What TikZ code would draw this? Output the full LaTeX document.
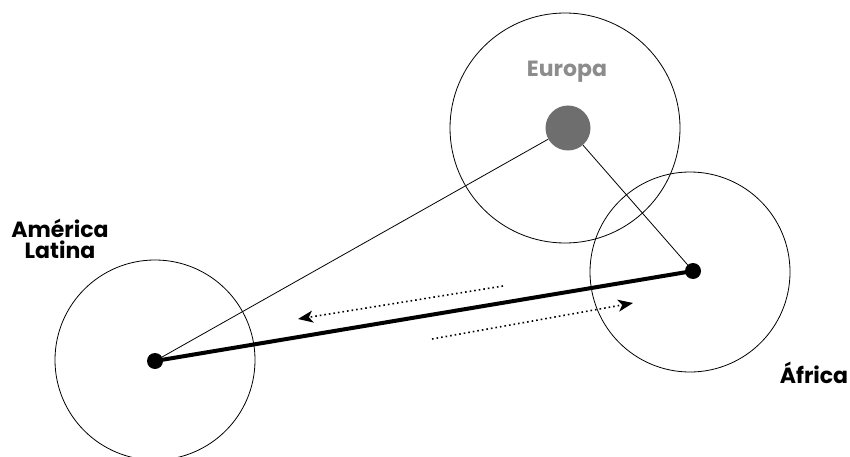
\documentclass[tikz,border=0pt]{standalone}
\usepackage{fontspec}
\setmainfont{Poppins}
\usetikzlibrary{arrows.meta}
\definecolor{eugrey}{RGB}{110,110,110}
\definecolor{eutext}{RGB}{140,140,140}
\tikzset{
  zone/.style={draw=black, line width=0.8pt},
  city/.style={circle, fill=black, inner sep=0pt, minimum size=16pt},
  hub/.style={circle, fill=eugrey, inner sep=0pt, minimum size=45pt},
  link/.style={line width=0.8pt},
  mainlink/.style={line width=4pt},
  flow/.style={line width=1.6pt, dash pattern=on 1.6pt off 3pt, -{Stealth[length=15pt,width=12pt,inset=4pt]}},
  lbl/.style={font=\bfseries\fontsize{22}{25}\selectfont, align=center}
}
\begin{document}
\begin{tikzpicture}[x=1pt,y=-1pt]
\useasboundingbox (0,0) rectangle (850,457);
\begin{scope}
\clip (0,0) rectangle (850,457);
\draw[zone] (565,128) circle (115);
\draw[zone] (155,360) circle (100);
\draw[zone] (690,272) circle (100);
\end{scope}
\node[hub] (eu) at (568,128) {};
\node[city] (am) at (155,361) {};
\node[city] (af) at (693,271) {};
\draw[link] (eu) -- (am.center);
\draw[link] (eu) -- (af.center);
\draw[mainlink] (am.center) -- (af.center);
\coordinate (f1s) at (503,286);
\coordinate (f1e) at (298,319);
\coordinate (f2s) at (432,339);
\coordinate (f2e) at (633,303);
\draw[flow] (f1s) -- (f1e);
\draw[flow] (f2s) -- (f2e);
\node[lbl, text=eutext] (eut) at (567,72) {Europa};
\node[lbl] (amt) at (60,239) {América\\[-4pt]Latina};
\node[lbl] (aft) at (814,373) {África};
\end{tikzpicture}
\end{document}
